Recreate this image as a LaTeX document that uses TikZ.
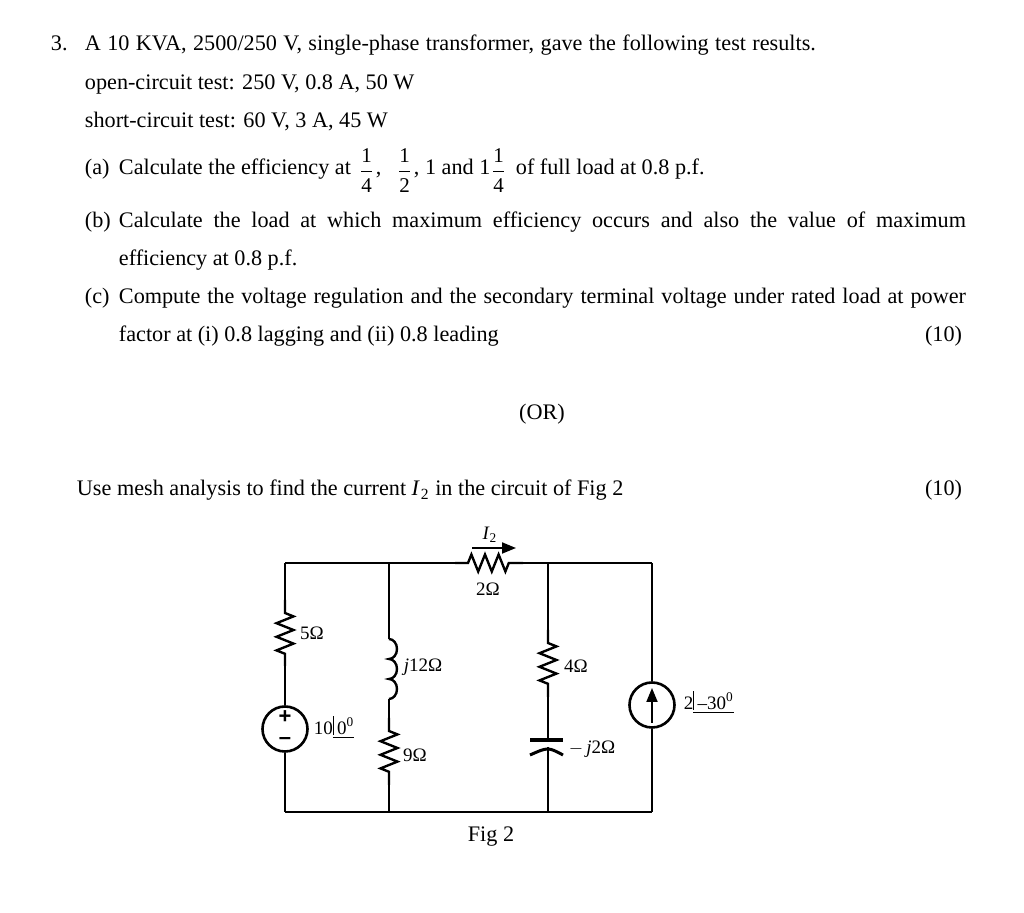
\documentclass[tikz,border=0pt]{standalone}
\usepackage{amsmath}
\usepackage{fontspec}
\setmainfont{Liberation Serif}
\newfontfamily\signfont{Liberation Sans}
\usetikzlibrary{arrows.meta,decorations.pathmorphing}
\newcommand{\fr}[2]{\ensuremath{\displaystyle\frac{\text{#1}}{\text{#2}}}}
\newcommand{\ang}[1]{\underline{\vrule width .5pt height 9.5pt depth 0pt\,#1\textsuperscript{0}}}
\newcommand{\pad}[1]{\makebox[423.5pt][s]{#1}}

\begin{document}
\begin{tikzpicture}[x=0.5pt,y=-0.5pt,line width=0.95pt]
  \tikzstyle{every node}=[inner sep=0pt, font=\fontsize{11.1}{13}\selectfont]
  \tikzstyle{txt}=[anchor=base west]
  \tikzstyle{num}=[anchor=base east]
  \tikzstyle{frc}=[anchor=base west, font=\fontsize{10.5}{12}\selectfont]
  \tikzstyle{lab}=[anchor=center, font=\fontsize{9.5}{11}\selectfont]
  \tikzstyle{sign}=[anchor=center, font=\fontsize{11}{11}\signfont\bfseries\selectfont]
  \tikzstyle{res}=[line width=1.2pt, decorate, decoration={zigzag, amplitude=4.25pt,
                   segment length=6.8pt, pre length=6.5pt, post length=6pt}]
  \tikzstyle{src}=[circle, draw, line width=1.3pt, minimum size=22.5pt]
  \tikzstyle{cur}=[-{Triangle[length=7pt,width=5.5pt]}, line width=0.95pt]

  \useasboundingbox (0,0) rectangle (1024,913);

  \node[txt] (Q)  at (50,51)   {3.};
  \node[txt] (T1) at (84,51)   {\makebox[365.5pt][s]{A 10 KVA, 2500/250 V, single-phase transformer, gave the following test results.}};
  \node[txt] (T2) at (84,90)   {open-circuit test: 250 V, 0.8 A, 50 W};
  \node[txt] (T3) at (84,128)  {short-circuit test: 60 V, 3 A, 45 W};
  \node[txt] (Aa) at (84,175)  {(a)};
  \node[txt] (A1) at (118,175) {Calculate the efficiency at};
  \node[frc] (F1) at (358,177) {\fr{1}{4}};
  \node[txt] (C1) at (375,175) {,};
  \node[frc] (F2) at (396,177) {\fr{1}{2}};
  \node[txt] (C2) at (413,175) {, 1 and 1};
  \node[frc] (F3) at (490,177) {\fr{1}{4}};
  \node[txt] (Ab) at (515,175) {of full load at 0.8 p.f.};
  \node[txt] (Ba) at (84,228)  {(b)};
  \node[txt] (B1) at (118,228) {\pad{Calculate the load at which maximum efficiency occurs and also the value of maximum}};
  \node[txt] (B2) at (118,266) {efficiency at 0.8 p.f.};
  \node[txt] (Ca) at (84,304)  {(c)};
  \node[txt] (C3) at (118,304) {\pad{Compute the voltage regulation and the secondary terminal voltage under rated load at power}};
  \node[txt] (C4) at (118,342) {factor at (i) 0.8 lagging and (ii) 0.8 leading};
  \node[num] (M1) at (963,342) {(10)};
  \node[anchor=base] (OR) at (542,420) {(OR)};
  \node[txt] (U)  at (76,496)  {Use mesh analysis to find the current \textit{I}\kern.5pt\textsubscript{2} in the circuit of Fig 2};
  \node[num] (M2) at (963,496) {(10)};

  \coordinate (TL) at (285,563);
  \coordinate (TA) at (389,563);
  \coordinate (Ra) at (455,563);
  \coordinate (Rb) at (523,563);
  \coordinate (TB) at (548,563);
  \coordinate (TR) at (652,563);
  \coordinate (BL) at (285,812);
  \coordinate (BA) at (389,812);
  \coordinate (BB) at (548,812);
  \coordinate (BR) at (652,812);
  \coordinate (Fa) at (285,600);
  \coordinate (Fb) at (285,666);
  \coordinate (La) at (389,639);
  \coordinate (Lb) at (389,699);
  \coordinate (Na) at (389,718);
  \coordinate (Nb) at (389,785);
  \coordinate (Ga) at (548,630);
  \coordinate (Gb) at (548,697);
  \coordinate (Pa) at (548,740);
  \coordinate (Pb) at (548,747);
  \coordinate (Pl) at (530,740);
  \coordinate (Pr) at (563,740);
  \coordinate (Ql) at (530,755);
  \coordinate (Qr) at (563,755);
  \coordinate (Ia) at (472,548);
  \coordinate (Ib) at (516,548);
  \coordinate (Ja) at (652,723);
  \coordinate (Jb) at (652,688);

  \node[src] (V) at (285,729) {};
  \node[src] (J) at (652,705) {};
  \node[sign] (Vp) at (285,717) {+};
  \node[sign] (Vm) at (285,741) {–};

  \path[draw] (TL) edge (TA)
        (TA) edge (Ra)
        (Ra) edge[res] (Rb)
        (Rb) edge (TB)
        (TB) edge (TR)
        (TL) edge (Fa)
        (Fa) edge[res] (Fb)
        (Fb) edge (V)
        (V)  edge (BL)
        (BL) edge (BA)
        (BA) edge (BB)
        (BB) edge (BR)
        (TA) edge (La)
        (Lb) edge (Na)
        (Na) edge[res] (Nb)
        (Nb) edge (BA)
        (TB) edge (Ga)
        (Ga) edge[res] (Gb)
        (Gb) edge (Pa)
        (Pb) edge (BB)
        (TR) edge (J)
        (J)  edge (BR);

  \draw[line width=1.2pt] (La) arc[start angle=90, end angle=-90, x radius=4pt, y radius=5pt]
                               arc[start angle=90, end angle=-90, x radius=4pt, y radius=5pt]
                               arc[start angle=90, end angle=-90, x radius=4pt, y radius=5pt];
  \draw[line width=1.7pt] (Pl) -- (Pr);
  \draw[line width=1.5pt] (Ql) .. controls (Pb) and (Pb) .. (Qr);
  \draw[cur] (Ia) -- (Ib);
  \draw[cur] (Ja) -- (Jb);

  \node[lab] (L5) at (312,633) {5Ω};
  \node[lab] (Lj) at (423,667) {\textit{j}12Ω};
  \node[lab] (L9) at (415,755) {9Ω};
  \node[lab] (L2) at (488,589) {2Ω};
  \node[lab] (L4) at (576,666) {4Ω};
  \node[lab] (Lc) at (592,749) {$-$\,\textit{j}2Ω};
  \node[lab] (LI) at (490,535) {\textit{I}\textsubscript{2}};
  \node[lab,anchor=west] (LV) at (313,727) {10\ang{0}};
  \node[lab,anchor=west] (LJ) at (683,702) {2\ang{–30}};
  \node[anchor=base] (Fg) at (491,842) {Fig 2};
\end{tikzpicture}
\end{document}
